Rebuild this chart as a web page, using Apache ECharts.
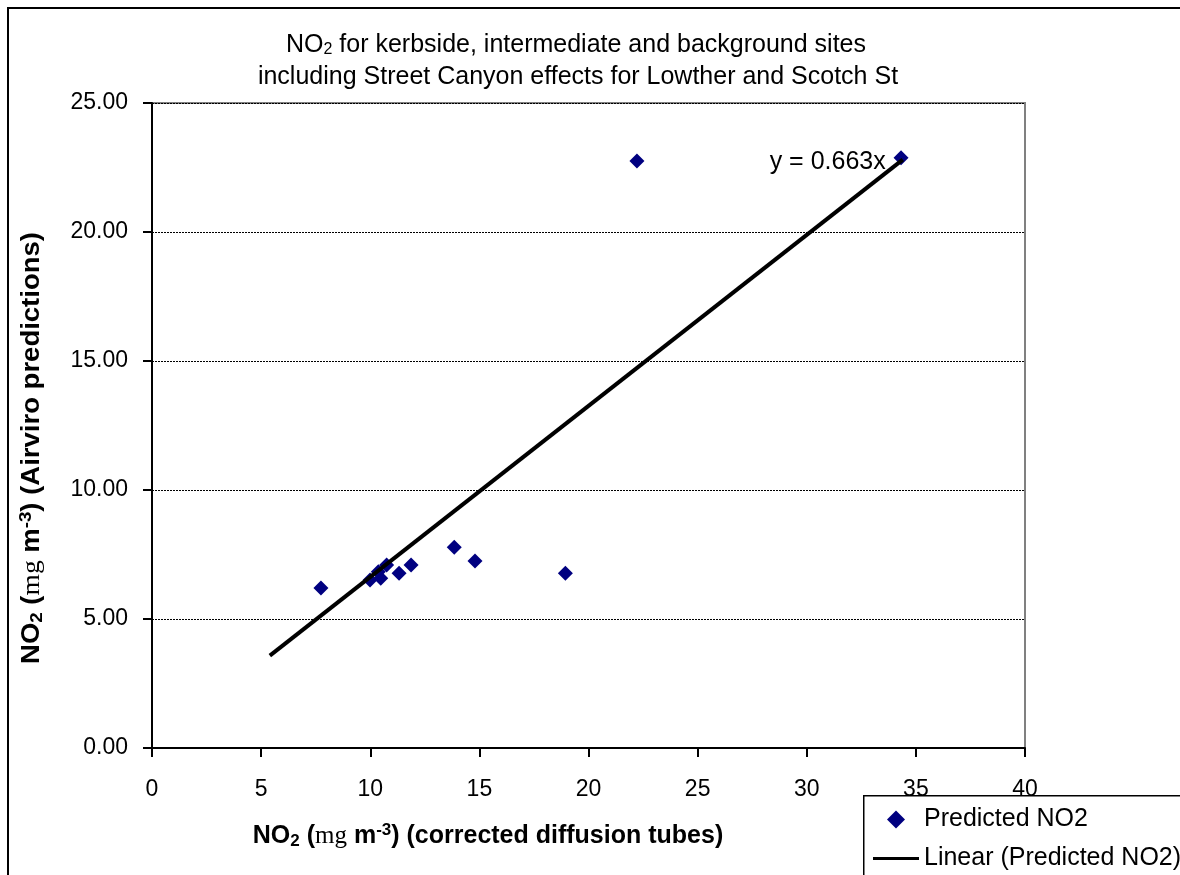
<!DOCTYPE html>
<html>
<head>
<meta charset="utf-8">
<script src="https://cdn.jsdelivr.net/npm/echarts@6/dist/echarts.min.js"></script>
<style>
  html, body { margin: 0; padding: 0; background: #fff; }
  #main { width: 1180px; height: 875px; }
</style>
</head>
<body>
<div id="main"></div>
<script>
// measured vs predicted NO2 (ug m-3)
var measuredNO2 = [7.74, 9.99, 10.37, 10.48, 10.75, 11.32, 11.87, 13.85, 14.8, 18.94, 22.22, 34.32];
var predictedNO2 = [6.2, 6.51, 6.83, 6.58, 7.09, 6.77, 7.09, 7.78, 7.25, 6.77, 22.75, 22.88];
// linear trendline through origin
var trendSlope = 0.663;
var trendRange = [5.4, 34.4];
var xTicks = [0, 40, 5];
var yTicks = [0, 25, 5];

var font = '"Liberation Sans", Arial, sans-serif';

var _chart_obj = {
    init: function () {
        this.drawChart();
    },
    axisTitle: function (tail) {
        return {
            text: '{b|NO}{s|2}{b| (}{m|mg}{b| m}{p|-3}{b|) ' + tail + '}',
            textAlign: 'center', textVerticalAlign: 'middle',
            rich: {
                b: { fontFamily: font, fontSize: 25, fontWeight: 'bold', color: '#000' },
                s: { fontFamily: font, fontSize: 17, fontWeight: 'bold', color: '#000', padding: [10, 0, 0, 0] },
                m: { fontFamily: '"Liberation Serif", serif', fontSize: 25, color: '#000' },
                p: { fontFamily: font, fontSize: 17, fontWeight: 'bold', color: '#000', padding: [0, 0, 12, 0] }
            }
        };
    },
    drawChart: function () {
        var myChart = echarts.init(document.getElementById('main'));
        var points = measuredNO2.map(function (x, i) { return [x, predictedNO2[i]]; });
        var trend = trendRange.map(function (x) { return [x, trendSlope * x]; });
        trend[trend.length - 1] = {
            value: trend[trend.length - 1],
            label: {
                show: true,
                position: 'left',
                distance: 17,
                offset: [0, 3],
                formatter: 'y = ' + trendSlope + 'x',
                color: '#000',
                fontFamily: font,
                fontSize: 25
            }
        };
        var option = {
            backgroundColor: '#fff',
            animation: false,
            grid: {
                left: 152, right: 155, top: 103, bottom: 127,
                show: true,
                borderColor: '#808080',
                borderWidth: 2,
                backgroundColor: '#fff'
            },
            graphic: [
                {   // outer chart frame
                    type: 'rect', left: 7, top: 7, z: -1,
                    shape: { x: 0, y: 0, width: 1200, height: 900 },
                    style: { fill: '#fff', stroke: '#000', lineWidth: 2 }
                },
                {   // legend frame, runs off the picture like the original
                    type: 'rect', left: 863, top: 795, z: 3,
                    shape: { x: 0, y: 0, width: 400, height: 200 },
                    style: { fill: '#fff', stroke: '#000', lineWidth: 1.5 }
                },
                {
                    type: 'text', x: 576, y: 45,
                    style: {
                        text: '{n|NO}{s|2}{n| for kerbside, intermediate and background sites}',
                        textAlign: 'center', textVerticalAlign: 'middle',
                        rich: {
                            n: { fontFamily: font, fontSize: 25, color: '#000' },
                            s: { fontFamily: font, fontSize: 16, color: '#000', padding: [9, 0, 0, 0] }
                        }
                    }
                },
                {
                    type: 'text', x: 578, y: 77,
                    style: {
                        text: 'including Street Canyon effects for Lowther and Scotch St',
                        textAlign: 'center', textVerticalAlign: 'middle',
                        font: '25px ' + font, fill: '#000'
                    }
                },
                {
                    type: 'text', x: 488, y: 836,
                    style: this.axisTitle('(corrected diffusion tubes)')
                },
                {
                    type: 'text', x: 32, y: 448, rotation: Math.PI / 2, scaleX: 1.1,
                    style: this.axisTitle('(Airviro predictions)')
                }
            ],
            legend: {
                left: 863, top: 795, z: 5,
                orient: 'vertical',
                padding: [12, 10, 0, 10],
                itemWidth: 46,
                itemHeight: 18,
                itemGap: 14,
                textStyle: { fontFamily: font, fontSize: 25, lineHeight: 24, color: '#000' },
                data: [
                    { name: 'Predicted NO2', icon: 'path://M7,0L14,7L7,14L0,7Z' },
                    { name: 'Linear (Predicted NO2)', icon: 'path://M0,0h46v3h-46z', itemStyle: { color: '#000' } }
                ]
            },
            xAxis: {
                type: 'value',
                min: xTicks[0], max: xTicks[1], interval: xTicks[2],
                axisLine: { onZero: false, lineStyle: { color: '#000', width: 2 } },
                axisTick: { show: true, length: 9, lineStyle: { color: '#000', width: 2 } },
                axisLabel: { margin: 30, fontFamily: font, fontSize: 23, color: '#000' },
                splitLine: { show: false }
            },
            yAxis: {
                type: 'value',
                min: yTicks[0], max: yTicks[1], interval: yTicks[2],
                axisLine: { onZero: false, lineStyle: { color: '#000', width: 2 } },
                axisTick: { show: true, length: 9, lineStyle: { color: '#000', width: 2 } },
                axisLabel: {
                    margin: 24, fontFamily: font, fontSize: 23, color: '#000',
                    formatter: function (v) { return v.toFixed(2); }
                },
                splitLine: { show: true, lineStyle: { color: '#000', width: 1, type: [2, 1] } }
            },
            series: [
                {
                    name: 'Predicted NO2',
                    type: 'scatter',
                    symbol: 'diamond',
                    symbolSize: 15,
                    itemStyle: { color: '#000080', opacity: 1 },
                    data: points,
                    z: 3
                },
                {
                    name: 'Linear (Predicted NO2)',
                    type: 'line',
                    symbol: 'circle',
                    symbolSize: 0.1,
                    showSymbol: true,
                    itemStyle: { color: '#000' },
                    lineStyle: { color: '#000', width: 4 },
                    data: trend,
                    z: 4
                }
            ]
        };
        myChart.setOption(option);
    }
};
_chart_obj.init();
</script>
</body>
</html>
